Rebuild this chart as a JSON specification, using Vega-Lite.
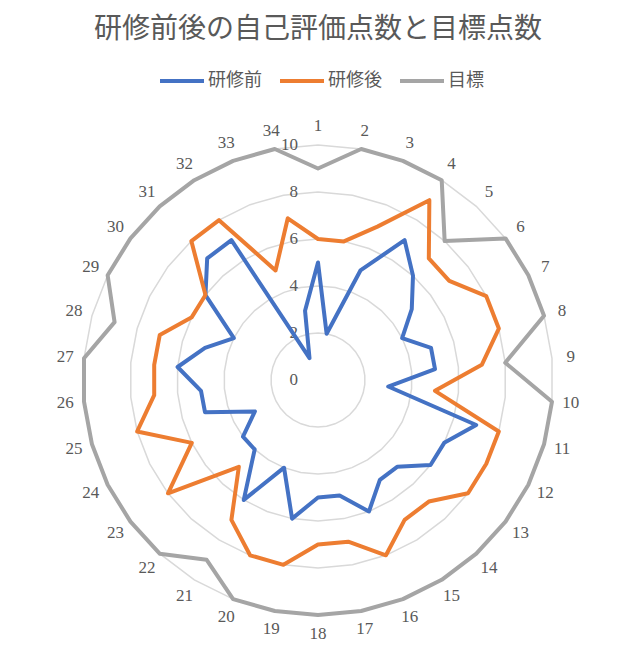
{
  "$schema": "https://vega.github.io/schema/vega-lite/v6.json",
  "width": 470,
  "height": 470,
  "autosize": "none",
  "padding": {"left": 83, "top": 145, "right": 82, "bottom": 38},
  "view": {"stroke": null},
  "title": {
    "text": "研修前後の自己評価点数と目標点数",
    "font": "Noto Sans CJK JP",
    "fontSize": 28,
    "fontWeight": "normal",
    "color": "#595959",
    "anchor": "middle",
    "offset": 13
  },
  "datasets": {
    "scores": [
      {"cat": 1, "研修前": 5, "研修後": 6, "目標": 9},
      {"cat": 2, "研修前": 2, "研修後": 6, "目標": 10},
      {"cat": 3, "研修前": 5, "研修後": 7, "目標": 10},
      {"cat": 4, "研修前": 7, "研修後": 9, "目標": 10},
      {"cat": 5, "研修前": 6, "研修後": 7, "目標": 8},
      {"cat": 6, "研修前": 5, "研修後": 7, "目標": 10},
      {"cat": 7, "研修前": 4, "研修後": 8, "目標": 10},
      {"cat": 8, "研修前": 5, "研修後": 8, "目標": 10},
      {"cat": 9, "研修前": 5, "研修後": 7, "目標": 8},
      {"cat": 10, "研修前": 3, "研修後": 5, "目標": 10},
      {"cat": 11, "研修前": 7, "研修後": 8, "目標": 10},
      {"cat": 12, "研修前": 6, "研修後": 8, "目標": 10},
      {"cat": 13, "研修前": 6, "研修後": 8, "目標": 10},
      {"cat": 14, "研修前": 5, "研修後": 7, "目標": 10},
      {"cat": 15, "研修前": 5, "研修後": 7, "目標": 10},
      {"cat": 16, "研修前": 6, "研修後": 8, "目標": 10},
      {"cat": 17, "研修前": 5, "研修後": 7, "目標": 10},
      {"cat": 18, "研修前": 5, "研修後": 7, "目標": 10},
      {"cat": 19, "研修前": 6, "研修後": 8, "目標": 10},
      {"cat": 20, "研修前": 4, "研修後": 8, "目標": 10},
      {"cat": 21, "研修前": 6, "研修後": 7, "目標": 9},
      {"cat": 22, "研修前": 4, "研修後": 5, "目標": 10},
      {"cat": 23, "研修前": 4, "研修後": 8, "目標": 10},
      {"cat": 24, "研修前": 3, "研修後": 6, "目標": 10},
      {"cat": 25, "研修前": 5, "研修後": 8, "目標": 10},
      {"cat": 26, "研修前": 5, "研修後": 7, "目標": 10},
      {"cat": 27, "研修前": 6, "研修後": 7, "目標": 10},
      {"cat": 28, "研修前": 5, "研修後": 7, "目標": 9},
      {"cat": 29, "研修前": 4, "研修後": 6, "目標": 10},
      {"cat": 30, "研修前": 6, "研修後": 6, "目標": 10},
      {"cat": 31, "研修前": 7, "研修後": 8, "目標": 10},
      {"cat": 32, "研修前": 7, "研修後": 8, "目標": 10},
      {"cat": 33, "研修前": 1, "研修後": 5, "目標": 10},
      {"cat": 34, "研修前": 3, "研修後": 7, "目標": 10}
    ],
    "rings": [
      {"ring": 0, "cat": []},
      {"ring": 2, "cat": [1,2,3,4,5,6,7,8,9,10,11,12,13,14,15,16,17,18,19,20,21,22,23,24,25,26,27,28,29,30,31,32,33,34]},
      {"ring": 4, "cat": [1,2,3,4,5,6,7,8,9,10,11,12,13,14,15,16,17,18,19,20,21,22,23,24,25,26,27,28,29,30,31,32,33,34]},
      {"ring": 6, "cat": [1,2,3,4,5,6,7,8,9,10,11,12,13,14,15,16,17,18,19,20,21,22,23,24,25,26,27,28,29,30,31,32,33,34]},
      {"ring": 8, "cat": [1,2,3,4,5,6,7,8,9,10,11,12,13,14,15,16,17,18,19,20,21,22,23,24,25,26,27,28,29,30,31,32,33,34]},
      {"ring": 10, "cat": [1,2,3,4,5,6,7,8,9,10,11,12,13,14,15,16,17,18,19,20,21,22,23,24,25,26,27,28,29,30,31,32,33,34]}
    ]
  },
  "layer": [
    {
      "data": {"name": "rings"},
      "transform": [
        {"filter": "datum.ring > 0"},
        {"flatten": ["cat"]},
        {"calculate": "(datum.cat - 1) * 2 * PI / 34", "as": "theta"},
        {"calculate": "datum.ring * sin(datum.theta)", "as": "x"},
        {"calculate": "datum.ring * cos(datum.theta)", "as": "y"}
      ],
      "mark": {"type": "line", "interpolate": "linear-closed", "color": "#D9D9D9", "strokeWidth": 1.5},
      "encoding": {
        "x": {"field": "x", "type": "quantitative", "scale": {"domain": [-10, 10], "nice": false, "zero": false}, "axis": null},
        "y": {"field": "y", "type": "quantitative", "scale": {"domain": [-10, 10], "nice": false, "zero": false}, "axis": null},
        "detail": {"field": "ring", "type": "nominal"},
        "order": {"field": "cat", "type": "quantitative"}
      }
    },
    {
      "data": {"name": "rings"},
      "mark": {"type": "text", "align": "right", "baseline": "middle", "dx": -20, "font": "Liberation Serif", "fontSize": 17, "color": "#595959"},
      "encoding": {
        "x": {"datum": 0, "type": "quantitative"},
        "y": {"field": "ring", "type": "quantitative"},
        "text": {"field": "ring", "type": "quantitative"}
      }
    },
    {
      "data": {"name": "scores"},
      "transform": [
        {"fold": ["研修前", "研修後", "目標"], "as": ["series", "value"]},
        {"calculate": "(datum.cat - 1) * 2 * PI / 34", "as": "theta"},
        {"calculate": "datum.value * sin(datum.theta)", "as": "x"},
        {"calculate": "datum.value * cos(datum.theta)", "as": "y"}
      ],
      "mark": {"type": "line", "interpolate": "linear-closed", "strokeWidth": 4, "strokeJoin": "round"},
      "encoding": {
        "x": {"field": "x", "type": "quantitative"},
        "y": {"field": "y", "type": "quantitative"},
        "color": {
          "field": "series",
          "type": "nominal",
          "scale": {"domain": ["研修前", "研修後", "目標"], "range": ["#4472C4", "#ED7D31", "#A5A5A5"]},
          "legend": {
            "orient": "none",
            "legendX": 75,
            "legendY": -88,
            "direction": "horizontal",
            "title": null,
            "symbolType": "stroke",
            "symbolStrokeWidth": 4,
            "symbolSize": 1936,
            "labelFont": "Noto Sans CJK JP",
            "labelFontSize": 18,
            "labelColor": "#595959",
            "labelOffset": 2,
            "columnPadding": 10
          }
        },
        "order": {"field": "cat", "type": "quantitative"}
      }
    },
    {
      "data": {"name": "scores"},
      "transform": [
        {"calculate": "(datum.cat - 1) * 2 * PI / 34", "as": "theta"},
        {"calculate": "10.8 * sin(datum.theta)", "as": "x"},
        {"calculate": "10.8 * cos(datum.theta)", "as": "y"}
      ],
      "mark": {"type": "text", "align": "center", "baseline": "middle", "font": "Liberation Serif", "fontSize": 17, "color": "#595959"},
      "encoding": {
        "x": {"field": "x", "type": "quantitative"},
        "y": {"field": "y", "type": "quantitative"},
        "text": {"field": "cat", "type": "quantitative"}
      }
    }
  ]
}
